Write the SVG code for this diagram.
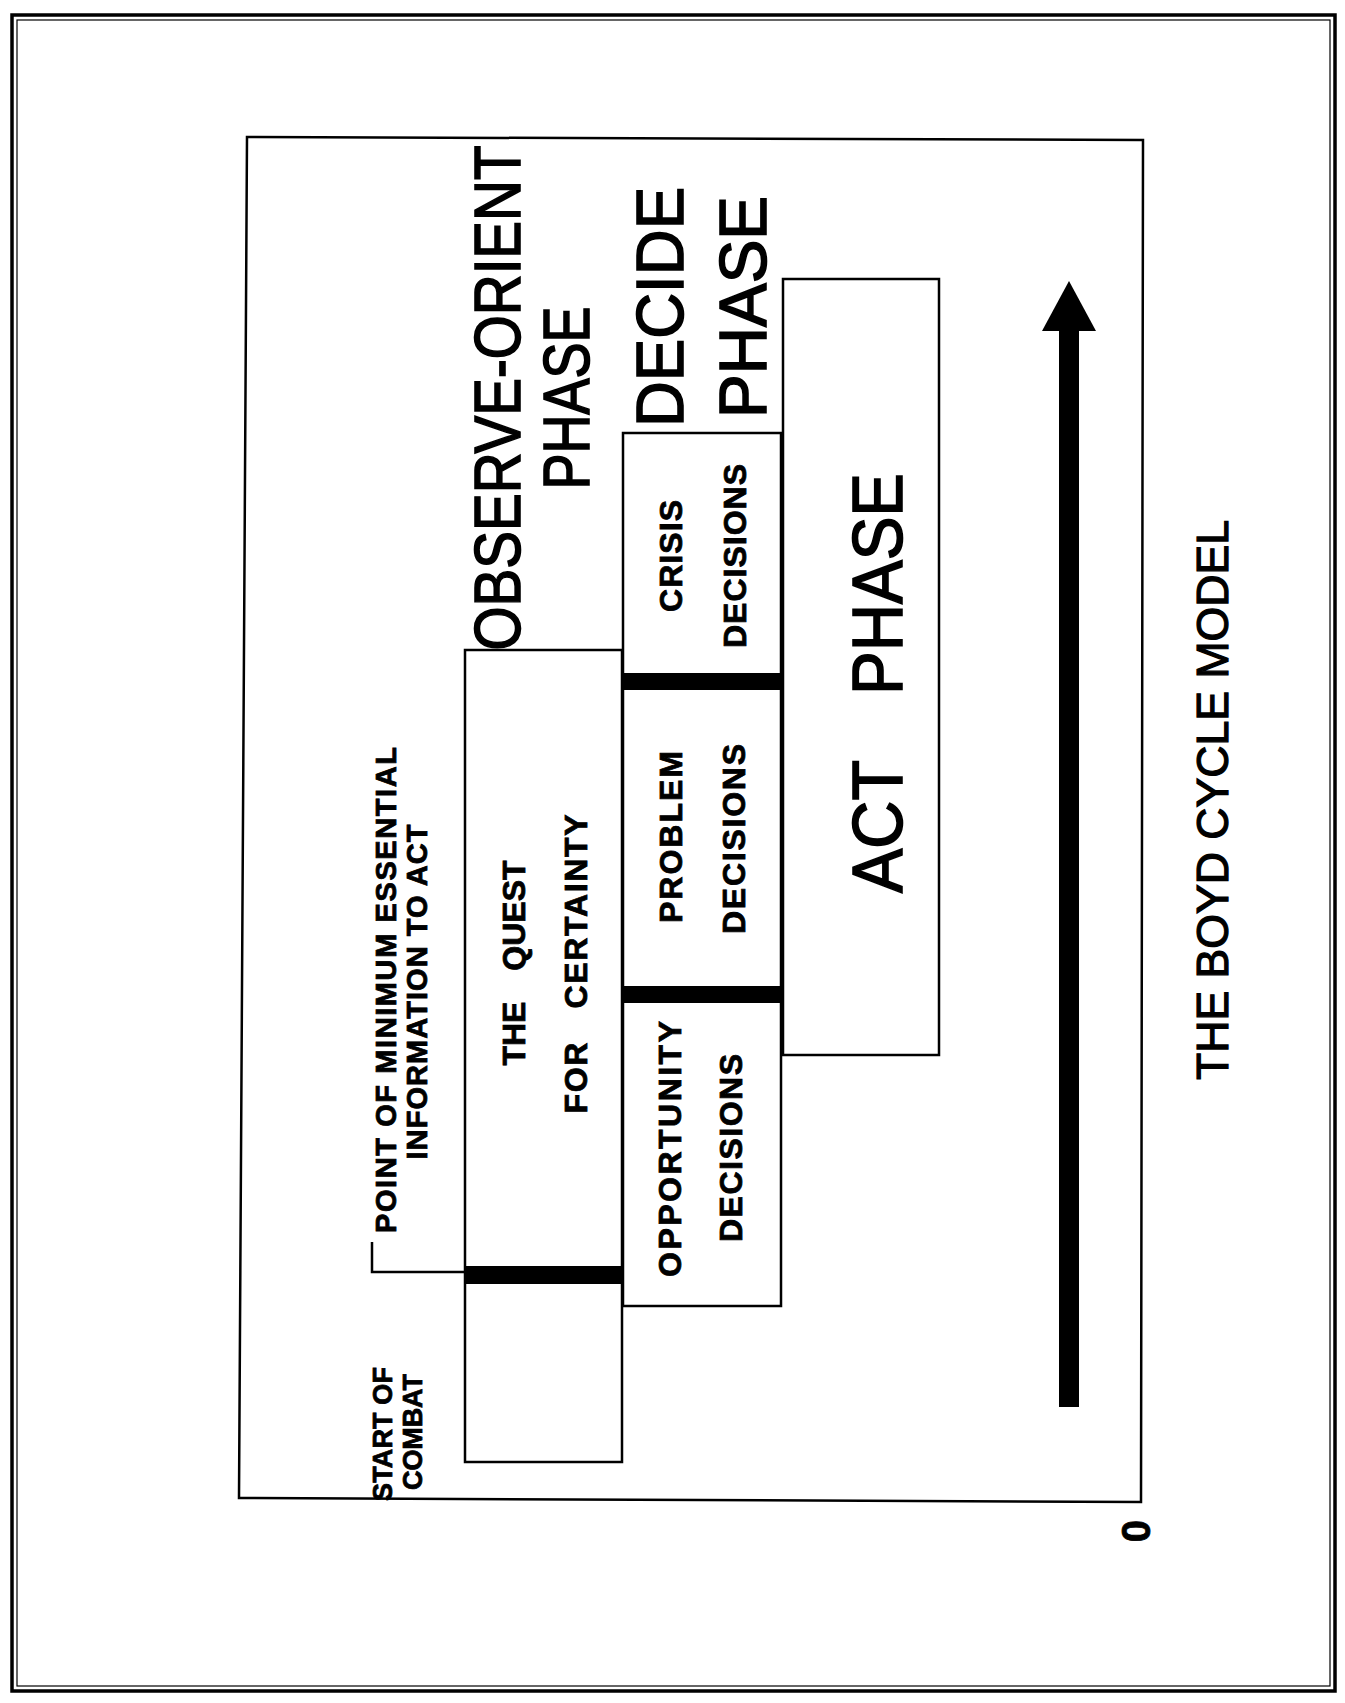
<svg xmlns="http://www.w3.org/2000/svg" width="1345" height="1703" viewBox="0 0 1345 1703">
<style>
.ln{fill:none;stroke:#000;stroke-width:2.5;stroke-linejoin:miter}
.bar{fill:#000}
.big{font-family:"Liberation Sans",Arial,Helvetica,sans-serif;font-weight:normal;fill:#000;stroke:#000;stroke-width:1.6}
.lbl{font-family:"Liberation Sans",Arial,Helvetica,sans-serif;font-weight:bold;fill:#000;stroke:#000;stroke-width:0.8}
</style>
<rect width="1345" height="1703" fill="#fff"/>
<g id="frame">
<rect x="12" y="15" width="1323" height="1676" fill="none" stroke="#000" stroke-width="3.5"/>
<rect x="17" y="20" width="1313" height="1666" fill="none" stroke="#000" stroke-width="1.2"/>
</g>
<g id="chart">
<path class="ln" d="M247,137 L1143,140 L1141,1502 L239,1498 Z"/>
</g>
<g id="observe-orient">
<rect class="ln" x="465" y="650" width="157" height="812"/>
<rect class="bar" x="465" y="1266" width="158" height="18"/>
<text class="big" font-size="64" text-anchor="middle" textLength="505" lengthAdjust="spacingAndGlyphs" transform="translate(520,398) rotate(-90)">OBSERVE-ORIENT</text>
<text class="big" font-size="64" text-anchor="middle" textLength="183" lengthAdjust="spacingAndGlyphs" transform="translate(589,398) rotate(-90)">PHASE</text>
<text class="lbl" font-size="32" text-anchor="middle" word-spacing="22" transform="translate(525,963) rotate(-90)">THE QUEST</text>
<text class="lbl" font-size="32" text-anchor="middle" word-spacing="22" textLength="299" lengthAdjust="spacing" transform="translate(587,964) rotate(-90)">FOR CERTAINTY</text>
</g>
<g id="minimum-info">
<path class="ln" d="M372,1242 L372,1272 L465,1272"/>
<text class="lbl" font-size="29" text-anchor="middle" textLength="486" lengthAdjust="spacing" transform="translate(396,990) rotate(-90)">POINT OF MINIMUM ESSENTIAL</text>
<text class="lbl" font-size="29" text-anchor="middle" textLength="335" lengthAdjust="spacing" transform="translate(427,992) rotate(-90)">INFORMATION TO ACT</text>
</g>
<g id="start-of-combat">
<text class="lbl" font-size="27" text-anchor="middle" textLength="134" lengthAdjust="spacing" transform="translate(392,1434) rotate(-90)">START OF</text>
<text class="lbl" font-size="27" text-anchor="middle" textLength="116" lengthAdjust="spacing" transform="translate(422,1432) rotate(-90)">COMBAT</text>
</g>
<g id="decide">
<text class="big" font-size="67" text-anchor="middle" textLength="240" lengthAdjust="spacingAndGlyphs" transform="translate(683,307) rotate(-90)">DECIDE</text>
<text class="big" font-size="67" text-anchor="middle" textLength="222" lengthAdjust="spacingAndGlyphs" transform="translate(766,307) rotate(-90)">PHASE</text>
<rect class="ln" x="623" y="433" width="158" height="873"/>
<rect class="bar" x="623" y="673" width="158" height="17"/>
<rect class="bar" x="623" y="986" width="158" height="17"/>
</g>
<g id="crisis">
<text class="lbl" font-size="32" text-anchor="middle" textLength="112" lengthAdjust="spacing" transform="translate(682,556) rotate(-90)">CRISIS</text>
<text class="lbl" font-size="32" text-anchor="middle" textLength="184" lengthAdjust="spacing" transform="translate(746,556) rotate(-90)">DECISIONS</text>
</g>
<g id="problem">
<text class="lbl" font-size="32" text-anchor="middle" textLength="172" lengthAdjust="spacing" transform="translate(682,837) rotate(-90)">PROBLEM</text>
<text class="lbl" font-size="32" text-anchor="middle" textLength="190" lengthAdjust="spacing" transform="translate(745,839) rotate(-90)">DECISIONS</text>
</g>
<g id="opportunity">
<text class="lbl" font-size="32" text-anchor="middle" textLength="256" lengthAdjust="spacing" transform="translate(681,1149) rotate(-90)">OPPORTUNITY</text>
<text class="lbl" font-size="32" text-anchor="middle" textLength="188" lengthAdjust="spacing" transform="translate(742,1148) rotate(-90)">DECISIONS</text>
</g>
<g id="act">
<rect class="ln" x="783" y="279" width="156" height="776"/>
<text class="big" font-size="70" transform="translate(902,0) rotate(-90)"><tspan x="-893" textLength="133" lengthAdjust="spacingAndGlyphs">ACT</tspan><tspan x="-695" textLength="222" lengthAdjust="spacingAndGlyphs">PHASE</tspan></text>
</g>
<g id="connectors">
<rect class="bar" x="1059" y="328" width="20" height="1079"/>
<polygon class="bar" points="1069,281 1096,331 1042,331"/>
</g>
<g id="title">
<text class="big" font-size="44" text-anchor="middle" textLength="560" lengthAdjust="spacingAndGlyphs" style="stroke-width:1.2" transform="translate(1228,800) rotate(-90)">THE BOYD CYCLE MODEL</text>
</g>
<g id="origin">
<text class="lbl" font-size="40" text-anchor="middle" transform="translate(1150,1531) rotate(-90)">0</text>
</g>
</svg>
